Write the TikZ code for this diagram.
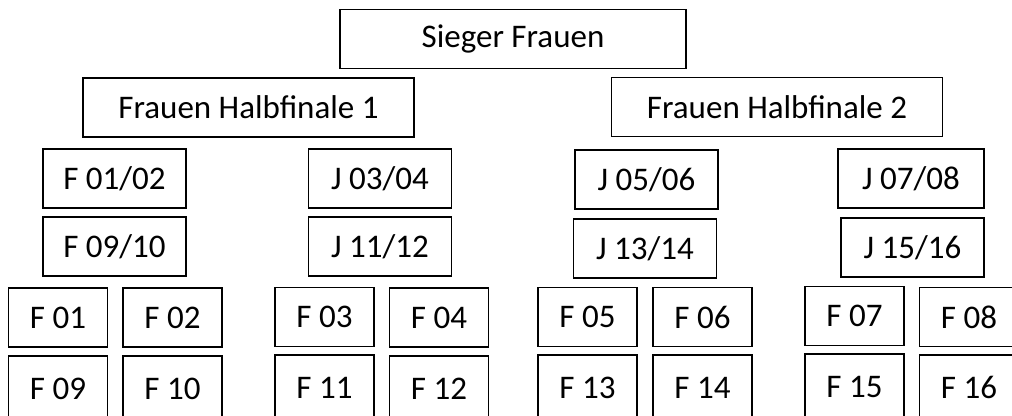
\documentclass[tikz,border=0pt]{standalone}
\usepackage{fontspec}
\setmainfont{Carlito}
\usetikzlibrary{positioning}
\tikzset{
  box/.style={draw, line width=1.8pt, inner sep=0pt, minimum height=59pt,
    font=\fontsize{33}{40}\selectfont},
  team/.style={box, minimum width=99pt},
  low/.style={team, minimum height=66pt},
  pair/.style={box, minimum width=143pt},
  half/.style={box, minimum width=331pt},
}

\begin{document}
\begin{tikzpicture}[x=1pt,y=-1pt]
  \useasboundingbox (0,0) rectangle (1012,415);
  \clip (0,0) rectangle (1012,415);

  \node[box, minimum width=346pt] (sieger) at (513,39) {Sieger Frauen};
  \node[half] (hf1) at (248.5,107.5) {Frauen Halbfinale 1};
  \node[half] (hf2) at (777,107) {Frauen Halbfinale 2};

  % paarungen
  \node[pair]                   (f0102) at (114.5,178.5) {F 01/02};
  \node[pair]                   (j0304) at (380,178.5)   {J 03/04};
  \node[pair]                   (j0506) at (646.5,179.5) {J 05/06};
  \node[pair, minimum width=146pt] (j0708) at (911,178.5) {J 07/08};
  \node[pair, below=7.5pt of f0102] (f0910) {F 09/10};
  \node[pair, below=7.5pt of j0304] (j1112) {J 11/12};
  \node[pair, below=8.5pt of j0506, xshift=-1.5pt] (j1314) {J 13/14};
  \node[pair, below=8pt of j0708, xshift=1.5pt] (j1516) {J 15/16};

  % einzelne teams
  \node[team] (f01) at (58,317.5)    {F 01};
  \node[team] (f02) at (172.5,317.5) {F 02};
  \node[team] (f03) at (324.5,317)   {F 03};
  \node[team] (f04) at (439,317.5)   {F 04};
  \node[team] (f05) at (587.5,317)   {F 05};
  \node[team] (f06) at (702.5,317)   {F 06};
  \node[team] (f07) at (854.5,316)   {F 07};
  \node[team] (f08) at (969,317)     {F 08};
  \node[low, below=7pt of f01] (f09) {F 09};
  \node[low, below=7pt of f02] (f10) {F 10};
  \node[low, below=6.5pt of f03] (f11) {F 11};
  \node[low, below=7pt of f04] (f12) {F 12};
  \node[low, below=6.5pt of f05] (f13) {F 13};
  \node[low, below=6.5pt of f06] (f14) {F 14};
  \node[low, below=6.5pt of f07] (f15) {F 15};
  \node[low, below=6.5pt of f08] (f16) {F 16};
\end{tikzpicture}
\end{document}
